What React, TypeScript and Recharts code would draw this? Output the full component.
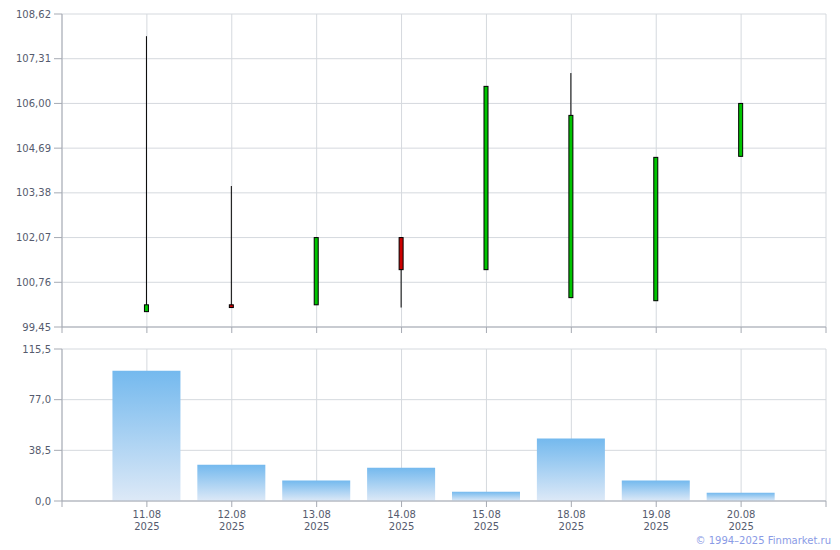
import { ComposedChart, Bar, XAxis, YAxis, CartesianGrid } from "recharts";

// trading days
const dates = ["11.08", "12.08", "13.08", "14.08", "15.08", "18.08", "19.08", "20.08"];
const year = "2025";

// OHLC
const opens = [99.9, 100.1, 100.1, 102.07, 101.13, 100.31, 100.22, 104.45];
const highs = [107.97, 103.58, 102.07, 102.07, 106.5, 106.89, 104.42, 106.0];
const lows = [99.9, 100.02, 100.1, 100.02, 101.13, 100.31, 100.22, 104.45];
const closes = [100.1, 100.02, 102.07, 101.13, 106.5, 105.65, 104.42, 106.0];

// volume bars
const volumes = [99.0, 27.6, 15.5, 25.3, 7.1, 47.4, 15.5, 6.3];

const priceTicks = [99.45, 100.76, 102.07, 103.38, 104.69, 106.0, 107.31, 108.62];
const volumeTicks = [0, 38.5, 77.0, 115.5];
const slotTicks = [0, 1, 2, 3, 4, 5, 6, 7, 8, 9];

const data = dates.map((d, i) => ({
  pos: i + 1,
  label: d,
  open: opens[i],
  high: highs[i],
  low: lows[i],
  close: closes[i],
  range: [lows[i], highs[i]],
  volume: volumes[i],
}));

const FONT = "'DejaVu Sans', Verdana, sans-serif";
const TEXT = "#555b6e";
const GRID = "#d5d9de";
const AXIS = "#a6aab3";

const Candle = (props: any) => {
  const { x, y, width, height, payload } = props;
  if (x == null || y == null) return null;
  const top = Math.min(y, y + height);
  const h = Math.abs(height);
  const span = payload.high - payload.low;
  const k = span > 0 ? h / span : 0;
  const yOf = (v: number) => top + (payload.high - v) * k;
  const cx = x + width / 2;
  const up = payload.close >= payload.open;
  const bTop = yOf(Math.max(payload.open, payload.close));
  const bBot = yOf(Math.min(payload.open, payload.close));
  return (
    <g>
      <line x1={cx} x2={cx} y1={top} y2={top + h} stroke="#000" strokeWidth={1} />
      <rect
        x={cx - 2}
        y={bTop}
        width={4}
        height={Math.max(bBot - bTop, 2)}
        fill={up ? "#00c400" : "#cc0000"}
        stroke="#000"
        strokeWidth={1}
      />
    </g>
  );
};

const DateTick = ({ x, y, payload }: any) => {
  const i = payload.value;
  if (i < 1 || i > dates.length) return null;
  return (
    <text x={x} y={y} textAnchor="middle" fill={TEXT} fontSize={10} fontFamily={FONT}>
      <tspan x={x} dy="0.85em">{dates[i - 1]}</tspan>
      <tspan x={x} dy="1.25em">{year}</tspan>
    </text>
  );
};

const comma = (digits: number) => (v: number) => v.toFixed(digits).replace(".", ",");

export default function App() {
  const tickStyle = { fill: TEXT, fontSize: 10, fontFamily: FONT };
  return (
    <div style={{ position: "absolute", left: 0, top: 0, width: 840, height: 550, background: "#fff" }}>
      <div style={{ position: "absolute", left: 0, top: 0 }}>
        <ComposedChart width={840} height={340} data={data} margin={{ top: 14, right: 14, bottom: 0, left: 0 }}>
          <CartesianGrid stroke={GRID} />
          <XAxis
            dataKey="pos"
            type="number"
            domain={[0, 9]}
            ticks={slotTicks}
            tickFormatter={() => ""}
            height={13}
            tickSize={6}
            stroke={AXIS}
            interval={0}
          />
          <YAxis
            type="number"
            domain={[99.45, 108.62]}
            ticks={priceTicks}
            tickFormatter={comma(2)}
            width={62}
            tickSize={8}
            tickMargin={3}
            tick={tickStyle}
            stroke={AXIS}
            interval={0}
            allowDataOverflow
          />
          <Bar dataKey="range" barSize={4} shape={<Candle />} isAnimationActive={false} />
        </ComposedChart>
      </div>
      <div style={{ position: "absolute", left: 0, top: 340 }}>
        <ComposedChart width={840} height={200} data={data} margin={{ top: 9, right: 14, bottom: 0, left: 0 }}>
          <defs>
            <linearGradient id="volFill" x1="0" y1="0" x2="0" y2="1">
              <stop offset="0%" stopColor="#74b9ee" />
              <stop offset="100%" stopColor="#dde9f7" />
            </linearGradient>
          </defs>
          <CartesianGrid stroke={GRID} />
          <XAxis
            dataKey="pos"
            type="number"
            domain={[0, 9]}
            ticks={slotTicks}
            tick={<DateTick />}
            height={39}
            tickSize={6}
            tickMargin={2}
            stroke={AXIS}
            interval={0}
          />
          <YAxis
            type="number"
            domain={[0, 115.5]}
            ticks={volumeTicks}
            tickFormatter={comma(1)}
            width={62}
            tickSize={8}
            tickMargin={3}
            tick={tickStyle}
            stroke={AXIS}
            interval={0}
          />
          <Bar dataKey="volume" barSize={68} fill="url(#volFill)" isAnimationActive={false} />
        </ComposedChart>
      </div>
      <div
        style={{
          position: "absolute",
          right: 9,
          top: 535,
          fontFamily: FONT,
          fontSize: 10,
          color: "#8a9be6",
          whiteSpace: "nowrap",
        }}
      >
        © 1994–2025 Finmarket.ru
      </div>
    </div>
  );
}
